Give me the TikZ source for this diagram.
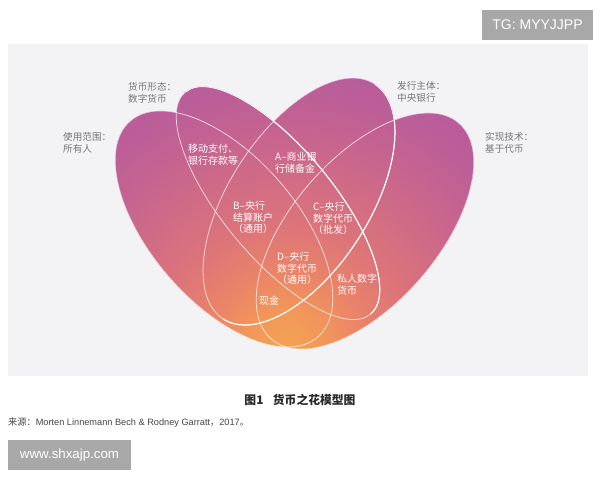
\documentclass[tikz,border=0pt]{standalone}
\usepackage{fontspec}
\setmainfont{Liberation Sans}
\newfontfamily\cjk{Noto Sans CJK SC}
\definecolor{panelbg}{RGB}{243,243,245}
\definecolor{pc0}{RGB}{244,164,82}
\definecolor{pc1}{RGB}{242,150,90}
\definecolor{pc2}{RGB}{234,132,104}
\definecolor{pc3}{RGB}{220,116,122}
\definecolor{pc4}{RGB}{204,104,138}
\definecolor{pc5}{RGB}{188,94,152}
\definecolor{pc6}{RGB}{174,86,164}
\definecolor{pc7}{RGB}{168,84,168}
\definecolor{labgray}{RGB}{118,118,122}
\definecolor{wmgray}{RGB}{168,168,168}
\definecolor{captxt}{RGB}{40,40,40}
\definecolor{srctxt}{RGB}{70,70,70}
\pgfdeclareradialshading{petal}{\pgfpointorigin}{color(0bp)=(pc0); color(3.5bp)=(pc1); color(6.5bp)=(pc2); color(10.5bp)=(pc3); color(16bp)=(pc4); color(21.5bp)=(pc5); color(30bp)=(pc6); color(50bp)=(pc7)}
\begin{document}
\begin{tikzpicture}[x=1pt,y=-1pt,
  outline/.style={draw=white, line width=0.75pt, draw opacity=0.75},
  bright/.style={draw=white, line width=1.2pt, draw opacity=0.95},
  inlab/.style={anchor=north west, inner sep=0pt, text=white, align=left, font=\cjk\fontsize{10}{11.6}\selectfont},
  outlab/.style={anchor=north west, inner sep=0pt, text=labgray, align=left, font=\cjk\fontsize{9.6}{12}\selectfont},
  wmbox/.style={fill=wmgray, text=white, inner sep=0pt}
]
\useasboundingbox (0,0) rectangle (600,480);
\fill[white] (0,0) rectangle (600,480);
\fill[panelbg] (8,44) rectangle (588,376);
\begin{scope}
\clip (224,229) circle[x radius=143, y radius=73, rotate=-49]
      (278,203) circle[x radius=144.6, y radius=55, rotate=-50.2]
      (299,201.5) circle[x radius=139.8, y radius=70.1, rotate=57.2]
      (365,231) circle[x radius=143, y radius=73, rotate=49];
\shade[shading=petal] (285,350) circle (300);
\draw[outline] (224,229) circle[x radius=143, y radius=73, rotate=-49];
\draw[outline] (278,203) circle[x radius=144.6, y radius=55, rotate=-50.2];
\draw[outline] (299,201.5) circle[x radius=139.8, y radius=70.1, rotate=57.2];
\draw[outline] (365,231) circle[x radius=143, y radius=73, rotate=49];
% brighter right-hand edges of the two middle petals
\begin{scope}
\clip[rotate around={-50.2:(278,203)}] (78,203) rectangle (478,100);
\draw[bright] (278,203) circle[x radius=144.6, y radius=55, rotate=-50.2];
\end{scope}
\begin{scope}
\clip[rotate around={57.2:(299,201.5)}] (99,201.5) rectangle (499,300);
\draw[bright] (299,201.5) circle[x radius=139.8, y radius=70.1, rotate=57.2];
\end{scope}
\end{scope}
% outer labels
\node[outlab] (l1) at (128,82) {货币形态：\\数字货币};
\node[outlab] (l2) at (63,132) {使用范围：\\所有人};
\node[outlab] (l3) at (397,81) {发行主体：\\中央银行};
\node[outlab] (l4) at (485,132) {实现技术：\\基于代币};
% inner labels
\node[inlab] (t1) at (188,144) {移动支付、\\银行存款等};
\node[inlab] (tA) at (275,152) {A–商业银\\行储备金};
\node[inlab] (tB) at (233,201) {B–央行\\结算账户\\（通用）};
\node[inlab] (tC) at (313,202) {C–央行\\数字代币\\（批发）};
\node[inlab] (tD) at (277,252) {D–央行\\数字代币\\（通用）};
\node[inlab] (tP) at (337,274) {私人数字\\货币};
\node[inlab] (tX) at (259,296) {现金};
% caption and source
\node[inner sep=0pt, text=captxt, font=\cjk\bfseries\fontsize{11.8}{13}\selectfont] (cap) at (300,400) {图1\hspace{0.8em}货币之花模型图};
\node[anchor=west, inner sep=0pt, text=srctxt, font=\fontsize{9.2}{10}\selectfont] (src) at (8,423) {{\cjk 来源：}Morten Linnemann Bech \& Rodney Garratt{\cjk ，}2017{\cjk 。}};
% watermarks
\node[wmbox, minimum width=111pt, minimum height=30pt, font=\fontsize{14}{16}\selectfont] (tg) at (537.5,25) {TG: MYYJJPP};
\node[wmbox, minimum width=123pt, minimum height=30pt, font=\fontsize{13.3}{15}\selectfont] (www) at (69.5,455) {www.shxajp.com};
\end{tikzpicture}
\end{document}
